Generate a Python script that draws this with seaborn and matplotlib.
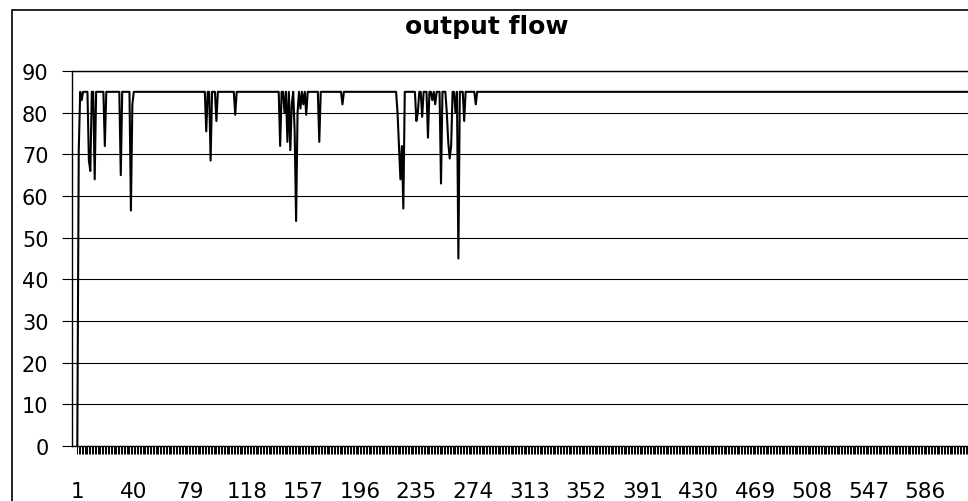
import numpy as np
import pandas as pd
import matplotlib.pyplot as plt
from matplotlib.patches import Rectangle
from matplotlib.ticker import FixedLocator
import seaborn as sns

# ---- data ----
n_points = 620          # categories shown (1 .. ~616 visible)
plateau = 85            # flow sits at this level outside the dips

dip_points = [1, 2, 4, 9, 10, 13, 20, 31, 38, 39,
              90, 93, 97, 110,
              141, 144, 146, 148, 149, 151, 152, 153, 155, 157, 159, 168, 184,
              222, 223, 224, 225, 226, 235, 236, 239, 243, 246, 248,
              252, 256, 257, 258, 259, 262, 264, 268, 276]
dip_values = [0, 71, 83, 68.5, 66, 64, 72, 65, 56.5, 82,
              75.5, 68.5, 78, 79.5,
              72, 80, 73, 71, 82, 75.5, 54, 80, 81, 82, 79.5, 73, 82,
              80, 72, 64, 72, 57, 78, 80, 79, 74, 83, 82,
              63, 80, 73, 69, 72, 80, 45, 78, 82]

x_tick_labels = [1, 40, 79, 118, 157, 196, 235, 274, 313, 352,
                 391, 430, 469, 508, 547, 586]
y_ticks = [0, 10, 20, 30, 40, 50, 60, 70, 80, 90]

flow = np.full(n_points, plateau, dtype=float)
flow[np.array(dip_points) - 1] = dip_values
df = pd.DataFrame({"category": np.arange(1, n_points + 1), "flow": flow})

# ---- plot ----
sns.set_style("white")
plt.rcParams["font.family"] = ["DejaVu Sans"]
plt.rcParams["text.color"] = "black"
plt.rcParams["xtick.color"] = "black"
plt.rcParams["ytick.color"] = "black"

W, H = 968, 502
fig = plt.figure(figsize=(W / 100, H / 100), dpi=100)
ax = fig.add_axes([72 / W, 55 / H, (W - 72) / W, 375 / H])

sns.lineplot(data=df, x="category", y="flow", ax=ax, color="black",
             linewidth=1.5, zorder=3)

px_per_cat = 1.449
ax.set_xlim(1 - 5.3 / px_per_cat, 1 + (W - 77.3) / px_per_cat)
ax.set_ylim(0, 90)

ax.set_yticks(y_ticks)
ax.xaxis.set_major_locator(FixedLocator(x_tick_labels))
ax.xaxis.set_minor_locator(FixedLocator(np.arange(1, n_points + 1)))
ax.set_xticklabels([str(v) for v in x_tick_labels])

ax.yaxis.grid(True, color="black", linewidth=0.8, zorder=1)
ax.xaxis.grid(False)

for side in ["left", "bottom", "top"]:
    ax.spines[side].set_visible(True)
    ax.spines[side].set_color("black")
    ax.spines[side].set_linewidth(1.0)
ax.spines["right"].set_visible(False)

ax.tick_params(axis="y", direction="out", length=7, width=0.8,
               labelsize=15, pad=10, left=True, labelcolor="black")
ax.tick_params(axis="x", which="both", direction="out", length=6,
               width=0.7, bottom=True, color="black")
ax.tick_params(axis="x", which="major", labelsize=15.5, pad=19,
               labelcolor="black")

ax.set_xlabel("")
ax.set_ylabel("")

# chart area frame and title
fig.add_artist(Rectangle((12 / W, -0.2), 1.5, 1 - 11 / H + 0.2,
                         transform=fig.transFigure, fill=False,
                         edgecolor="black", linewidth=1.2))
fig.text(0.503, 0.946, "output flow", ha="center", va="center",
         fontsize=18, fontweight="bold", color="black")

fig.savefig("out.png", dpi=100)
plt.close(fig)
